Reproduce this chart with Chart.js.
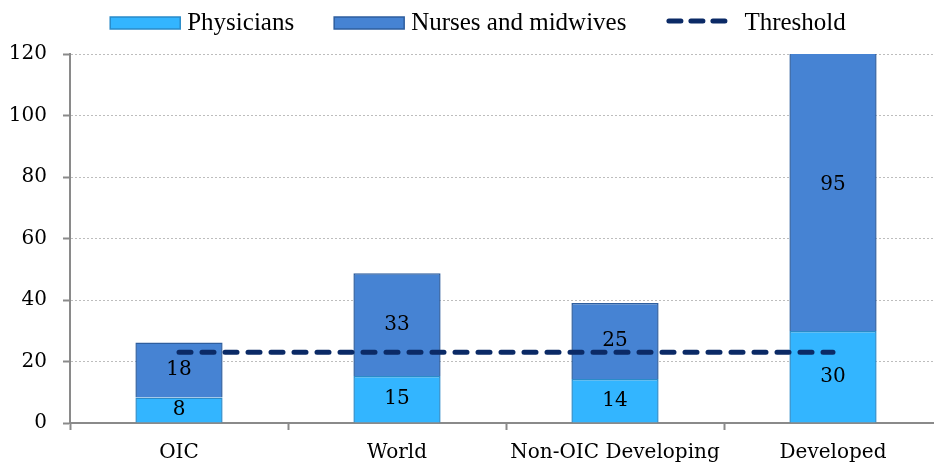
<!doctype html>
<html lang="en">
  <head>
    <meta charset="utf-8">
    <title>Health workforce density</title>
    <script src="https://cdn.jsdelivr.net/npm/chart.js@4/dist/chart.umd.min.js"></script>
    <style>
      html, body { margin: 0; padding: 0; background: #fff; overflow: hidden; }
      /* plot area runs a few px past the right edge, as in the original */
      #wrap { width: 942px; height: 465px; }
    </style>
  </head>
  <body>
    <div id="wrap"><canvas id="workforce"></canvas></div>

    <script>
    // values (per 10,000 people)
    var regions = ["OIC", "World", "Non-OIC Developing", "Developed"];
    var physicians = [8.3, 15.3, 14.3, 29.9];
    var nursesMidwives = [17.9, 33.4, 24.7, 95];
    var threshold = [23, 23, 23, 23];
    var yTicks = [0, 20, 40, 60, 80, 100, 120];

    var FONT = '"DejaVu Serif", serif';
    var LEGEND_FONT = '25px "Liberation Serif", serif';

    // bar value labels, drawn after each bar dataset (so the threshold line stays on top)
    var barLabels = {
      id: 'barLabels',
      afterDatasetDraw: function(chart, args) {
        var ds = chart.data.datasets[args.index];
        if (ds.type === 'line') return;
        var ctx = chart.ctx;
        ctx.save();
        ctx.font = '20px ' + FONT;
        ctx.fillStyle = '#000';
        ctx.textAlign = 'center';
        ctx.textBaseline = 'middle';
        args.meta.data.forEach(function(el, i) {
          var p = el.getCenterPoint();
          ctx.fillText(Math.round(ds.data[i]), p.x, p.y);
        });
        ctx.restore();
      }
    };

    // legend drawn by hand so the spacing can follow the original
    var topLegend = {
      id: 'topLegend',
      afterDraw: function(chart) {
        var ctx = chart.ctx;
        var gap = 40, y = 22;
        ctx.save();
        ctx.font = LEGEND_FONT;
        var sets = chart.data.datasets;
        var items = sets.map(function(ds) {
          var isLine = ds.type === 'line';
          var symW = isLine ? 61 : 70;
          var txtGap = isLine ? 17 : 7;
          return { ds: ds, symW: symW, txtGap: txtGap, w: symW + txtGap + ctx.measureText(ds.label).width };
        });
        var total = items.reduce(function(a, it) { return a + it.w; }, 0) + gap * (items.length - 1);
        var x = 478 - total / 2;
        items.forEach(function(it) {
          var ds = it.ds;
          if (ds.type === 'line') {
            ctx.strokeStyle = ds.borderColor;
            ctx.lineWidth = ds.borderWidth;
            ctx.lineCap = 'round';
            ctx.setLineDash([12, 10]);
            ctx.beginPath();
            ctx.moveTo(x + 2.5, y - 1);
            ctx.lineTo(x + it.symW - 2.5, y - 1);
            ctx.stroke();
            ctx.setLineDash([]);
          } else {
            ctx.fillStyle = ds.backgroundColor;
            ctx.fillRect(x, y - 5, it.symW, 12);
            ctx.strokeStyle = ds.borderColor;
            ctx.lineWidth = 1.5;
            ctx.strokeRect(x, y - 5, it.symW, 12);
          }
          ctx.fillStyle = '#000';
          ctx.textAlign = 'left';
          ctx.textBaseline = 'alphabetic';
          ctx.fillText(ds.label, x + it.symW + it.txtGap, y + 8);
          x += it.w + gap;
        });
        ctx.restore();
      }
    };

    var ctx = document.getElementById("workforce");
    var myChart = new Chart(ctx, {
      type: 'bar',
      data: {
        labels: regions,
        datasets: [
          {
            label: "Physicians",
            data: physicians,
            backgroundColor: '#33B5FF',
            borderColor: '#2A8BC9',
            borderWidth: 1.5,
            barPercentage: 0.4,
            categoryPercentage: 1,
            clip: 0,
            order: 1
          },
          {
            label: "Nurses and midwives",
            data: nursesMidwives,
            backgroundColor: '#4683D3',
            borderColor: '#2E5E9E',
            borderWidth: 1.5,
            barPercentage: 0.4,
            categoryPercentage: 1,
            clip: 0,
            order: 1
          },
          {
            type: 'line',
            label: "Threshold",
            data: threshold,
            borderColor: '#0B2A66',
            borderWidth: 5,
            borderDash: [12, 11],
            borderCapStyle: 'round',
            pointRadius: 0,
            fill: false,
            order: 0
          }
        ]
      },
      options: {
        responsive: true,
        maintainAspectRatio: false,
        animation: false,
        layout: { padding: { top: 54, left: 10, right: 0, bottom: 0 } },
        plugins: {
          legend: { display: false },
          tooltip: { enabled: false }
        },
        scales: {
          x: {
            stacked: true,
            offset: true,
            afterFit: function(axis) { axis.height = 42; },
            grid: {
              display: true,
              offset: true,
              drawOnChartArea: false,
              drawTicks: true,
              tickLength: 7,
              tickColor: '#8a8a8a',
              tickWidth: 2
            },
            border: { display: true, color: '#8a8a8a', width: 2 },
            ticks: { color: '#000', font: { family: FONT, size: 20 }, padding: 11, maxRotation: 0 }
          },
          y: {
            stacked: true,
            min: 0,
            max: 120,
            afterFit: function(axis) { axis.width = 60; },
            afterBuildTicks: function(axis) {
              axis.ticks = yTicks.map(function(v) { return { value: v }; });
            },
            grid: {
              color: '#bdbdbd',
              lineWidth: 1,
              drawTicks: true,
              tickLength: 7,
              tickColor: '#8a8a8a',
              tickWidth: 2,
              tickBorderDash: []
            },
            border: { display: true, color: '#8a8a8a', width: 2, dash: [2, 2] },
            ticks: { color: '#000', font: { family: FONT, size: 20 }, padding: 16 }
          }
        }
      },
      plugins: [barLabels, topLegend]
    });
    </script>
  </body>
</html>
